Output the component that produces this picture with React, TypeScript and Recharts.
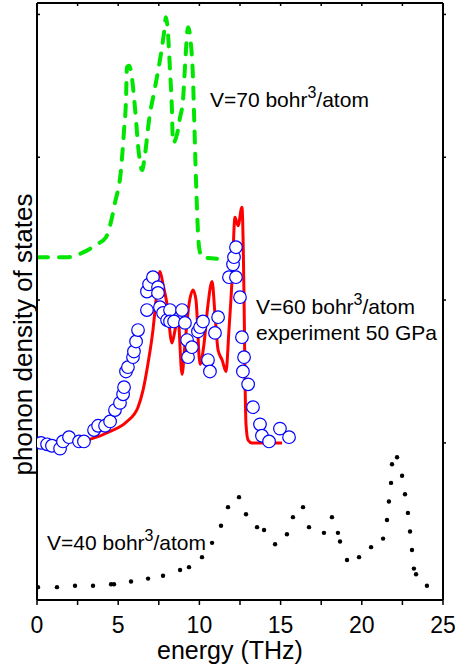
import { ComposedChart, Line, Scatter, XAxis, YAxis, ReferenceDot } from "recharts";

const FONT = "'Liberation Sans', Arial, Helvetica, sans-serif";

// V=70 bohr^3/atom (green dashed)
const v70Energy = [0, 1.91, 2.77, 3.69, 4.25, 4.62, 4.8, 5.17, 5.36, 5.48, 5.54, 5.67, 5.79, 6.03, 6.28, 6.47, 6.65, 6.9, 7.27, 7.57, 7.82, 7.94, 8.07, 8.19, 8.31, 8.37, 8.62, 8.81, 8.99, 9.11, 9.3, 9.48, 9.61, 9.67, 9.79, 9.98, 10.16, 11.08];
const v70Dos = [2.3, 2.3, 2.33, 2.39, 2.44, 2.58, 2.68, 2.91, 3.19, 3.4, 3.63, 3.64, 3.6, 3.35, 3.02, 2.91, 3.02, 3.26, 3.49, 3.68, 3.87, 3.98, 3.86, 3.61, 3.33, 3.1, 3.16, 3.28, 3.4, 3.63, 3.91, 3.79, 3.54, 3.31, 2.84, 2.37, 2.3, 2.29];

// V=60 bohr^3/atom (red line)
const v60Energy = [0, 1.42, 2.65, 3.39, 4.5, 5.54, 6.22, 6.53, 6.84, 7.14, 7.33, 7.45, 7.57, 7.76, 8.01, 8.31, 8.5, 8.68, 8.93, 9.11, 9.36, 9.61, 9.79, 10.04, 10.28, 10.53, 10.78, 10.96, 11.15, 11.4, 11.64, 11.82, 12.01, 12.19, 12.38, 12.62, 12.75, 12.81, 12.87, 13.0, 13.24, 15.09];
const v60Dos = [1.0, 1.01, 1.01, 1.03, 1.08, 1.15, 1.25, 1.37, 1.56, 1.79, 2.0, 2.14, 2.2, 2.11, 1.97, 1.7, 1.79, 1.88, 1.48, 1.69, 1.97, 2.07, 2.0, 1.55, 1.69, 1.97, 2.13, 1.9, 1.65, 1.58, 1.5, 1.79, 2.14, 2.58, 2.52, 2.65, 2.0, 1.44, 1.13, 1.02, 1.0, 1.0];

// experiment 50 GPa (open circles)
const expEnergy = [0.25, 0.62, 0.92, 1.42, 1.6, 1.97, 2.59, 2.89, 3.51, 3.76, 4.19, 4.5, 4.8, 5.11, 5.3, 5.36, 5.48, 5.6, 5.91, 5.97, 6.1, 6.22, 6.77, 6.77, 6.9, 7.14, 7.45, 7.45, 7.57, 7.76, 8.01, 8.19, 8.19, 8.44, 8.93, 9.11, 9.24, 9.3, 9.54, 9.91, 10.04, 10.22, 10.53, 10.65, 10.96, 11.15, 11.82, 12.25, 12.07, 12.13, 12.25, 12.5, 12.62, 12.75, 12.68, 13.0, 13.3, 13.73, 13.85, 14.29, 14.96, 15.52];
const expDos = [1.0, 0.99, 0.98, 0.96, 1.01, 1.04, 1.01, 1.01, 1.09, 1.12, 1.12, 1.15, 1.23, 1.28, 1.34, 1.39, 1.5, 1.53, 1.6, 1.64, 1.71, 1.79, 1.93, 2.06, 2.11, 2.16, 2.09, 2.05, 1.95, 1.91, 1.86, 1.93, 1.85, 1.85, 1.93, 1.84, 1.72, 1.6, 1.67, 1.78, 1.81, 1.85, 1.58, 1.5, 1.77, 1.88, 2.16, 2.16, 2.25, 2.3, 2.37, 2.02, 1.74, 1.6, 1.5, 1.41, 1.25, 1.13, 1.05, 1.01, 1.1, 1.04];

// V=40 bohr^3/atom (black dots)
const v40Energy = [0.06, 1.23, 2.34, 3.45, 4.56, 4.74, 5.79, 6.84, 7.76, 8.81, 9.36, 10.16, 10.78, 11.33, 11.76, 12.44, 12.87, 13.55, 13.98, 14.66, 15.39, 15.76, 16.38, 16.75, 17.67, 18.16, 18.53, 18.66, 19.09, 19.83, 20.57, 21.31, 21.55, 21.67, 21.8, 21.86, 22.17, 22.48, 22.66, 22.84, 22.97, 23.09, 23.21, 23.34, 24.01];
const v40Dos = [-0.01, -0.01, 0.0, 0.0, 0.01, 0.01, 0.03, 0.05, 0.07, 0.11, 0.13, 0.2, 0.3, 0.42, 0.55, 0.62, 0.5, 0.41, 0.39, 0.29, 0.36, 0.48, 0.55, 0.41, 0.37, 0.48, 0.37, 0.31, 0.18, 0.2, 0.27, 0.33, 0.46, 0.59, 0.72, 0.85, 0.9, 0.77, 0.64, 0.51, 0.38, 0.25, 0.12, 0.08, 0.0];

const xTicks = [0, 2.5, 5, 7.5, 10, 12.5, 15, 17.5, 20, 22.5, 25];
const yTicks = [1, 2, 3, 4];

const pairs = (xs: number[], ys: number[]) => xs.map((x, i) => ({ x, y: ys[i] }));

const v70Data = pairs(v70Energy, v70Dos);
const v60Data = pairs(v60Energy, v60Dos);
const expData = pairs(expEnergy, expDos);
const v40Data = pairs(v40Energy, v40Dos);

const axisLine = { stroke: "#000", strokeWidth: 2 };
const tickLine = { stroke: "#000", strokeWidth: 1.5 };
const noLabel = () => "";

const OpenCircle = (p: any) => (
  <circle cx={p.cx} cy={p.cy} r={6.3} fill="#fff" stroke="#0000ff" strokeWidth={1.2} />
);
const SmallDot = (p: any) => <circle cx={p.cx} cy={p.cy} r={2.2} fill="#000" />;

const XTitle = (p: any) => {
  const vb = p.viewBox;
  return (
    <text x={vb.x + vb.width / 2 - 10} y={vb.y + 59} textAnchor="middle" fontSize={25} fontFamily={FONT} fill="#000">
      energy (THz)
    </text>
  );
};

const YTitle = (p: any) => {
  const vb = p.viewBox;
  const cx = vb.x + vb.width - 5;
  const cy = vb.y + vb.height / 2 + 33;
  return (
    <text x={cx} y={cy} transform={`rotate(-90 ${cx} ${cy})`} textAnchor="middle" fontSize={26} fontFamily={FONT} fill="#000">
      phonon density of states
    </text>
  );
};

// annotation text, anchored at its left baseline
const note = (head: string, tail?: string) => (p: any) => (
  <text x={p.viewBox.x} y={p.viewBox.y} fontSize={21} fontFamily={FONT} fill="#000">
    {head}
    {tail !== undefined && (
      <>
        <tspan dy={-9} fontSize={16}>3</tspan>
        <tspan dy={9}>{tail}</tspan>
      </>
    )}
  </text>
);

export default function App() {
  return (
    <div style={{ position: "absolute", left: 0, top: 0, width: 455, height: 668, background: "#fff" }}>
      <ComposedChart width={455} height={668} margin={{ top: 0, right: 0, bottom: 0, left: 0 }}>
        <XAxis
          xAxisId="x"
          type="number"
          dataKey="x"
          domain={[0, 25]}
          allowDataOverflow
          ticks={xTicks}
          interval={0}
          height={68}
          tickSize={5}
          tickMargin={12}
          tickFormatter={(v: number) => (v % 5 === 0 ? String(v) : "")}
          tick={{ fontSize: 23, fill: "#000", fontFamily: FONT }}
          axisLine={axisLine}
          tickLine={tickLine}
          label={XTitle}
        />
        <XAxis
          xAxisId="top"
          orientation="top"
          type="number"
          dataKey="x"
          domain={[0, 25]}
          allowDataOverflow
          ticks={xTicks}
          interval={0}
          height={3}
          tickSize={-3}
          tickFormatter={noLabel}
          axisLine={axisLine}
          tickLine={tickLine}
        />
        <YAxis
          yAxisId="left"
          type="number"
          domain={[-0.1, 4.08]}
          allowDataOverflow
          ticks={yTicks}
          interval={0}
          width={37}
          tickSize={-3}
          tickFormatter={noLabel}
          axisLine={axisLine}
          tickLine={tickLine}
          label={YTitle}
        />
        <YAxis
          yAxisId="right"
          orientation="right"
          type="number"
          domain={[-0.1, 4.08]}
          allowDataOverflow
          ticks={yTicks}
          interval={0}
          width={12}
          tickSize={3}
          tickFormatter={noLabel}
          axisLine={axisLine}
          tickLine={tickLine}
        />

        <Line
          xAxisId="x"
          yAxisId="left"
          data={v70Data}
          dataKey="y"
          type="monotone"
          stroke="#00e600"
          strokeWidth={4}
          strokeDasharray="11 11"
          strokeLinecap="round"
          dot={false}
          isAnimationActive={false}
        />
        <Line
          xAxisId="x"
          yAxisId="left"
          data={v60Data}
          dataKey="y"
          type="monotone"
          stroke="#ff0000"
          strokeWidth={3}
          dot={false}
          isAnimationActive={false}
        />
        <Scatter xAxisId="x" yAxisId="left" data={expData} dataKey="y" shape={OpenCircle} isAnimationActive={false} />
        <Scatter xAxisId="x" yAxisId="left" data={v40Data} dataKey="y" shape={SmallDot} isAnimationActive={false} />

        <ReferenceDot xAxisId="x" yAxisId="left" x={10.65} y={3.35} r={0} label={note("V=70 bohr", "/atom")} />
        <ReferenceDot xAxisId="x" yAxisId="left" x={13.49} y={1.9} r={0} label={note("V=60 bohr", "/atom")} />
        <ReferenceDot xAxisId="x" yAxisId="left" x={13.49} y={1.72} r={0} label={note("experiment 50 GPa")} />
        <ReferenceDot xAxisId="x" yAxisId="left" x={0.62} y={0.25} r={0} label={note("V=40 bohr", "/atom")} />
      </ComposedChart>
    </div>
  );
}
